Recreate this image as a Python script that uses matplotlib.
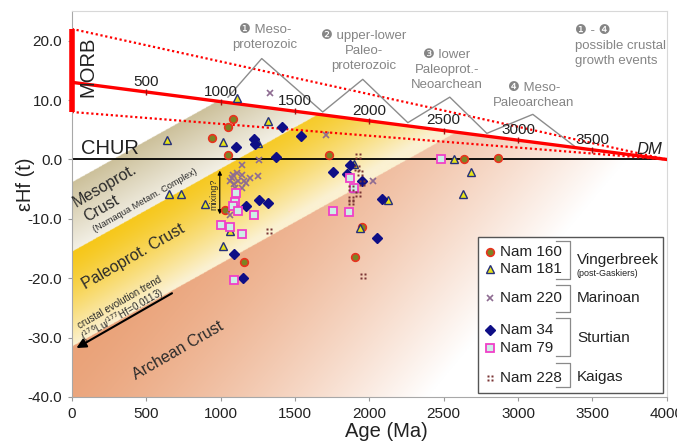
import numpy as np
import matplotlib
matplotlib.use("Agg")
import matplotlib.pyplot as plt
from matplotlib.patches import Rectangle
from matplotlib.path import Path

plt.rcParams['font.family'] = ['Liberation Sans', 'DejaVu Sans']

# zircon data, age (Ma) vs eHf(t)
nam160_age = [1084, 1047, 943, 1051, 1728, 1952, 1903, 1159, 1029, 2638, 2862]
nam160_ehf = [6.8, 5.4, 3.6, 0.7, 0.7, -11.4, -16.4, -17.2, -8.5, 0.0, 0.2]

nam181_age = [637, 1108, 1319, 1016, 1252, 654, 731, 894, 1062, 1017, 2127, 1936, 1900, 1900, 2570, 2682, 2631]
nam181_ehf = [3.3, 10.3, 6.4, 3.0, 2.8, -5.8, -5.8, -7.5, -12.0, -14.6, -6.9, -11.6, -0.8, -4.8, 0.1, -2.1, -5.8]

nam220_age = [1331, 1257, 1141, 1084, 1141, 1197, 1253, 1062, 1118, 1174, 1096, 1141, 1062, 1712, 2026,
              1080, 1110, 1160, 1090]
nam220_ehf = [11.2, -0.1, -0.9, -2.6, -2.6, -3.2, -2.7, -3.7, -3.7, -4.0, -4.8, -4.8, -9.3, 4.2, -3.7,
              -3.2, -2.2, -3.6, -4.2]

nam34_age = [1103, 1228, 1235, 1410, 1371, 1544, 1757, 1259, 1320, 1174, 1091, 1152, 1869, 1853, 2088, 2053, 1948]
nam34_ehf = [2.1, 3.4, 2.6, 5.4, 0.5, 3.9, -2.1, -6.9, -7.4, -7.8, -15.9, -20.0, -0.9, -2.4, -6.7, -13.2, -3.7]

nam79_age = [1107, 1100, 1085, 1118, 1224, 1006, 1062, 1141, 1089, 1757, 1864, 1896, 1869, 2481]
nam79_ehf = [-5.7, -7.1, -7.8, -8.6, -9.4, -11.1, -11.3, -12.6, -20.3, -8.6, -8.9, -4.8, -3.1, 0.0]

nam228_age = [1327, 1925, 1914, 1936, 1948, 1880, 1880, 1925, 1880, 1958]
nam228_ehf = [-12.0, 0.6, -1.5, -2.3, -4.0, -4.8, -6.6, -5.8, -7.1, -19.7]

# reference lines
dm_age = [0, 4000]
dm_ehf = [13, 0]
morb_upper = [22, 0]
morb_lower = [8, 0]
morb_bar = [8, 22]
dm_ticks = [500, 1000, 1500, 2000, 2500, 3000, 3500]

# crustal growth events outline
event_age = [1050, 1277, 1687, 1956, 2259, 2541, 2790, 3099, 3381]
event_ehf = [10.5, 17.0, 8.0, 13.5, 6.2, 10.5, 4.4, 7.6, 2.2]

# crust bands: eHf - slope*age (Lu/Hf = 0.0113 trend)
band_slope = 0.014
meso_top, meso_bot = -3.8, -15.5
paleo_bot = -31.5

fig = plt.figure(figsize=(6.77, 4.43), dpi=100)
ax = fig.add_axes([0.106, 0.104, 0.879, 0.871])
ax.set_xlim(0, 4000)
ax.set_ylim(-40, 25)


def hexrgb(h):
    h = h.lstrip('#')
    return np.array([int(h[i:i + 2], 16) / 255 for i in (0, 2, 4)])


def four_dots():
    verts, codes = [], []
    r = 0.3
    for cx, cy in [(-0.55, -0.55), (0.55, -0.55), (-0.55, 0.55), (0.55, 0.55)]:
        verts += [(cx - r, cy - r), (cx + r, cy - r), (cx + r, cy + r), (cx - r, cy + r), (cx - r, cy - r)]
        codes += [Path.MOVETO, Path.LINETO, Path.LINETO, Path.LINETO, Path.CLOSEPOLY]
    return Path(verts, codes)


dots = four_dots()

# background shading
xs = np.linspace(0, 4000, 900)
ys = np.linspace(-40, 25, 600)
X, Y = np.meshgrid(xs, ys)
U = Y - band_slope * X
img = np.ones((len(ys), len(xs), 4))

m = (U <= meso_top) & (U > meso_bot)
t = ((meso_top - U) / (meso_top - meso_bot))[..., None]
col = hexrgb('#CCC09A') * (1 - t) + hexrgb('#F3F0E6') * t
img[m, :3] = col[m]

m = (U <= meso_bot) & (U > paleo_bot)
t = (((meso_bot - U) / (meso_bot - paleo_bot)) ** 1.3)[..., None]
t = np.clip(t + (X / 4000 * 0.25)[..., None], 0, 1)
col = hexrgb('#F6C718') * (1 - t) + hexrgb('#FBF1D2') * t
img[m, :3] = col[m]

m = U <= paleo_bot
t = (np.clip(X / 5000 + (paleo_bot - U) / 80, 0, 1) ** 1.4)[..., None]
col = hexrgb('#EAA278') * (1 - t) + hexrgb('#FFFFFF') * t
img[m, :3] = col[m]

img[..., 3] = (Y <= np.interp(X, dm_age, dm_ehf)).astype(float)
ax.imshow(img, extent=[0, 4000, -40, 25], origin='lower', aspect='auto', zorder=0, interpolation='bilinear')

# reference lines
ax.plot(dm_age, [0, 0], color='black', lw=1.3, zorder=2)
ax.plot(dm_age, morb_upper, color='red', lw=1.6, ls=(0, (1, 1.2)), zorder=2)
ax.plot(dm_age, morb_lower, color='red', lw=1.6, ls=(0, (1, 1.2)), zorder=2)
ax.plot(dm_age, dm_ehf, color='red', lw=2.4, zorder=3)
ax.plot([0, 0], morb_bar, color='red', lw=4, solid_capstyle='butt', zorder=5, clip_on=False)
tick_y = np.interp(dm_ticks, dm_age, dm_ehf)
ax.plot(dm_ticks, tick_y, ls='none', marker='|', ms=4, color='#A01010', zorder=4)
for a, e in zip(dm_ticks, tick_y):
    ax.text(a, e + 1.7, str(a), ha='center', va='center', fontsize=11, color='#222222', zorder=6)

ax.plot(event_age, event_ehf, color='#8C8C8C', lw=1, zorder=2)

ax.text(110, 15.6, 'MORB', rotation=90, ha='center', va='center', fontsize=14.5, color='#222222')
ax.text(65, 0.3, 'CHUR', ha='left', va='bottom', fontsize=14.5, color='#222222')
ax.text(3886, 1.7, 'DM', ha='center', va='center', fontsize=12, style='italic', color='#222222')

evc = '#858585'
ax.text(1297, 20.5, '\u2776 Meso-\nproterozoic', ha='center', va='center', fontsize=9.5, color=evc,
        linespacing=1.35)
ax.text(1965, 18.3, '\u2777 upper-lower\nPaleo-\nproterozoic', ha='center', va='center', fontsize=9.5,
        color=evc, linespacing=1.35)
ax.text(2521, 15.1, '\u2778 lower\nPaleoprot.-\nNeoarchean', ha='center', va='center', fontsize=9.5,
        color=evc, linespacing=1.35)
ax.text(3106, 10.8, '\u2779 Meso-\nPaleoarchean', ha='center', va='center', fontsize=9.5, color=evc,
        linespacing=1.35)
ax.text(3382, 19.1, '\u2776 - \u2779\npossible crustal\ngrowth events', ha='left', va='center',
        fontsize=9.5, color=evc, linespacing=1.35)

# band labels
tc = '#2A2A2A'
ax.text(222, -4.4, 'Mesoprot.', rotation=30, ha='center', va='center', fontsize=11.5, color=tc)
ax.text(200, -8.3, 'Crust', rotation=30, ha='center', va='center', fontsize=11.5, color=tc)
ax.text(490, -6.9, '(Namaqua Metam. Complex)', rotation=30, ha='center', va='center', fontsize=6.7, color=tc)
ax.text(417, -16.4, 'Paleoprot. Crust', rotation=30, ha='center', va='center', fontsize=11.5, color=tc)
ax.text(713, -32.2, 'Archean Crust', rotation=30, ha='center', va='center', fontsize=11.5, color=tc)
ax.text(323, -24.1, 'crustal evolution trend', rotation=30, ha='center', va='center', fontsize=7, color=tc)
ax.text(340, -26.2, r'($^{176}$Lu/$^{177}$Hf=0.0113)', rotation=30, ha='center', va='center',
        fontsize=7, color=tc)
ax.annotate('', xy=(15, -32), xytext=(690, -22.3),
            arrowprops=dict(arrowstyle='-|>', color='black', lw=1.5, mutation_scale=14), zorder=4)
ax.annotate('', xy=(995, -1.4), xytext=(995, -9.7),
            arrowprops=dict(arrowstyle='<|-|>', color='black', lw=0.8, mutation_scale=6), zorder=4)
ax.text(955, -5.8, 'mixing?', rotation=90, ha='center', va='center', fontsize=6.5, color=tc)

# data
ax.plot(nam160_age, nam160_ehf, ls='none', marker='o', ms=5.5, mfc='#7B8424', mec='#E8321E', mew=1.2, zorder=7)
ax.plot(nam181_age, nam181_ehf, ls='none', marker='^', ms=6, mfc='#E6E21A', mec='#25307A', mew=1.0, zorder=7)
ax.plot(nam220_age, nam220_ehf, ls='none', marker='x', ms=5, mec='#8E6C92', mew=1.2, zorder=7)
ax.plot(nam34_age, nam34_ehf, ls='none', marker='D', ms=5, mfc='#0E0E86', mec='#0E0E86', zorder=7)
ax.plot(nam79_age, nam79_ehf, ls='none', marker='s', ms=6, mfc='#CDEFE6', mec='#F040C8', mew=1.3, zorder=7)
ax.plot(nam228_age, nam228_ehf, ls='none', marker=dots, ms=5, mfc='#7A3434', mec='none', zorder=7)

# axes
ax.set_xticks(np.arange(0, 4001, 500))
ax.set_yticks(np.arange(-40, 21, 10))
ax.set_yticklabels(['%.1f' % v for v in np.arange(-40, 21, 10)])
ax.tick_params(labelsize=11, length=3, color='#9A9A9A', pad=4, labelcolor='#222222')
for s in ['left', 'bottom']:
    ax.spines[s].set_color('#A8A8A8')
for s in ['top', 'right']:
    ax.spines[s].set_color('#D8D8D8')
ax.set_xlabel('Age (Ma)', fontsize=14.5, color='#222222')
ax.set_ylabel('\u03b5Hf (t)', fontsize=14.5, color='#222222')
ax.xaxis.set_label_coords(0.528, -0.064)
ax.yaxis.set_label_coords(-0.062, 0.55)

# custom legend
tr = ax.transAxes
ax.add_patch(Rectangle((0.682, 0.010), 0.311, 0.405, transform=tr, facecolor='white', edgecolor='#555555',
                       lw=1, zorder=8))
key_y = [0.376, 0.332, 0.256, 0.174, 0.127, 0.049]
key_lbl = ['Nam 160', 'Nam 181', 'Nam 220', 'Nam 34', 'Nam 79', 'Nam 228']
key_style = [dict(marker='o', ms=5.5, mfc='#7B8424', mec='#E8321E', mew=1.2),
             dict(marker='^', ms=6, mfc='#E6E21A', mec='#25307A', mew=1.0),
             dict(marker='x', ms=5, mec='#8E6C92', mew=1.2),
             dict(marker='D', ms=5, mfc='#0E0E86', mec='#0E0E86'),
             dict(marker='s', ms=6, mfc='#CDEFE6', mec='#F040C8', mew=1.3),
             dict(marker=dots, ms=5, mfc='#7A3434', mec='none')]
for ky, kl, st in zip(key_y, key_lbl, key_style):
    ax.plot([0.703], [ky], transform=tr, ls='none', zorder=9, clip_on=False, **st)
    ax.text(0.719, ky, kl, transform=tr, ha='left', va='center', fontsize=11, color='#222222', zorder=9)
for top, bot in [(0.404, 0.306), (0.290, 0.220), (0.205, 0.106), (0.088, 0.026)]:
    ax.plot([0.813, 0.837, 0.837, 0.813], [top, top, bot, bot], transform=tr, color='#8A8A8A', lw=0.9,
            zorder=9)
ax.text(0.849, 0.355, 'Vingerbreek', transform=tr, ha='left', va='center', fontsize=11, color='#222222', zorder=9)
ax.text(0.849, 0.319, '(post-Gaskiers)', transform=tr, ha='left', va='center', fontsize=6.5, color='#222222',
        zorder=9)
ax.text(0.849, 0.256, 'Marinoan', transform=tr, ha='left', va='center', fontsize=11, color='#222222', zorder=9)
ax.text(0.849, 0.153, 'Sturtian', transform=tr, ha='left', va='center', fontsize=11, color='#222222', zorder=9)
ax.text(0.849, 0.052, 'Kaigas', transform=tr, ha='left', va='center', fontsize=11, color='#222222', zorder=9)

fig.savefig('out.png', dpi=100)
